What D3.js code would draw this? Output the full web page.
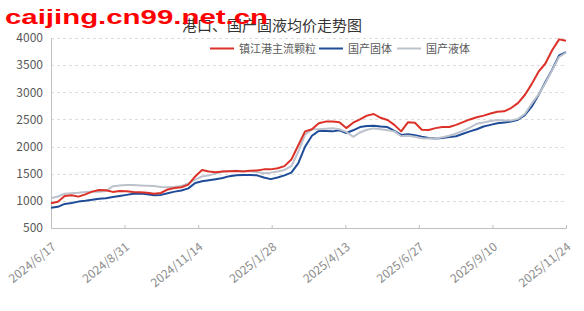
<!DOCTYPE html>
<html>
<head>
<meta charset="utf-8">
<script src="https://cdn.jsdelivr.net/npm/d3@7"></script>
<style>
  body { margin: 0; background: #fff; }
  text { font-family: "Noto Sans CJK SC", "Noto Sans", sans-serif; }
</style>
</head>
<body>
<div id="app"></div>
<script>
// weekly dates, 2024/6/17 .. 2025/11/24
const dates = [
  "2024-06-17","2024-06-24","2024-07-01","2024-07-08","2024-07-15","2024-07-22","2024-07-29",
  "2024-08-05","2024-08-12","2024-08-19","2024-08-26","2024-09-02","2024-09-09","2024-09-16",
  "2024-09-23","2024-09-30","2024-10-07","2024-10-14","2024-10-21","2024-10-28","2024-11-04",
  "2024-11-11","2024-11-18","2024-11-25","2024-12-02","2024-12-09","2024-12-16","2024-12-23",
  "2024-12-30","2025-01-06","2025-01-13","2025-01-20","2025-01-27","2025-02-03","2025-02-10",
  "2025-02-17","2025-02-24","2025-03-03","2025-03-10","2025-03-17","2025-03-24","2025-03-31",
  "2025-04-07","2025-04-14","2025-04-21","2025-04-28","2025-05-05","2025-05-12","2025-05-19",
  "2025-05-26","2025-06-02","2025-06-09","2025-06-16","2025-06-23","2025-06-30","2025-07-07",
  "2025-07-14","2025-07-21","2025-07-28","2025-08-04","2025-08-11","2025-08-18","2025-08-25",
  "2025-09-01","2025-09-08","2025-09-15","2025-09-22","2025-09-29","2025-10-06","2025-10-13",
  "2025-10-20","2025-10-27","2025-11-03","2025-11-10","2025-11-17","2025-11-24"
];

// 镇江港主流颗粒
const portValues = [
  955, 985, 1090, 1105, 1078, 1120, 1170, 1200, 1195, 1165, 1180, 1175, 1165, 1160,
  1150, 1130, 1145, 1210, 1235, 1250, 1300, 1450, 1570, 1540, 1525, 1540, 1545, 1550,
  1540, 1555, 1560, 1580, 1580, 1600, 1640, 1760, 2020, 2280, 2320, 2430, 2460, 2460,
  2450, 2340, 2440, 2500, 2570, 2600, 2530, 2490, 2400, 2280, 2450, 2440, 2310, 2305,
  2340, 2360, 2360, 2400, 2450, 2500, 2540, 2570, 2610, 2640, 2650, 2710, 2800, 2950,
  3150, 3380, 3530, 3780, 3975, 3950
];
// 国产固体
const solidValues = [
  875, 890, 943, 960, 986, 1000, 1020, 1040, 1050, 1070, 1090, 1110, 1130, 1135,
  1120, 1105, 1110, 1140, 1170, 1190, 1230, 1330, 1360, 1380, 1400, 1420, 1455, 1470,
  1475, 1475, 1470, 1430, 1400, 1430, 1470, 1520, 1690, 1998, 2200, 2290, 2285, 2280,
  2300, 2250, 2300, 2360, 2380, 2385, 2370, 2360, 2290, 2215, 2225, 2210, 2183, 2160,
  2150, 2160, 2175, 2190, 2235, 2280, 2320, 2370, 2400, 2428, 2445, 2460, 2495, 2580,
  2735, 2950, 3190, 3420, 3680, 3740
];
// 国产液体
const liquidValues = [
  1047, 1080, 1130, 1140, 1150, 1165, 1170, 1170, 1180, 1270, 1285, 1290, 1290, 1285,
  1280, 1275, 1255, 1250, 1260, 1275, 1320, 1390, 1450, 1470, 1505, 1540, 1550, 1555,
  1550, 1545, 1530, 1510, 1520, 1540, 1570, 1640, 1900, 2220, 2317, 2320, 2330, 2336,
  2320, 2270, 2180, 2260, 2310, 2335, 2320, 2300, 2280, 2190, 2200, 2180, 2155, 2150,
  2150, 2170, 2200, 2240, 2290, 2350, 2420, 2445, 2470, 2490, 2480, 2480, 2510, 2600,
  2790, 2960, 3170, 3410, 3650, 3730
];

const seriesNames = ["镇江港主流颗粒", "国产固体", "国产液体"];
const seriesColors = ["#dc3128", "#1f4c98", "#bcc2cb"];
const xTickLabels = ["2024/6/17","2024/8/31","2024/11/14","2025/1/28","2025/4/13","2025/6/27","2025/9/10","2025/11/24"];
const yTicks = [500, 1000, 1500, 2000, 2500, 3000, 3500, 4000];

const width = 584, height = 311;
const margin = { top: 38, right: 18, bottom: 83, left: 51 };
const parseDate = d3.timeParse("%Y-%m-%d");
const parseTick = d3.timeParse("%Y/%m/%d");

const svg = d3.select("#app").append("svg")
  .attr("width", width).attr("height", height);

const x = d3.scaleTime()
  .domain([parseDate(dates[0]), parseDate(dates[dates.length - 1])])
  .range([margin.left, width - margin.right]);
const y = d3.scaleLinear()
  .domain([500, 4000])
  .range([height - margin.bottom, margin.top]);

// grid
svg.append("g")
  .selectAll("line")
  .data(yTicks.slice(1))
  .join("line")
  .attr("x1", margin.left).attr("x2", width - margin.right)
  .attr("y1", d => Math.round(y(d)) + 0.5).attr("y2", d => Math.round(y(d)) + 0.5)
  .attr("stroke", "#dcdcdc")
  .attr("stroke-dasharray", "3,3");

// y axis
const yAxis = svg.append("g")
  .attr("transform", `translate(${margin.left},0)`)
  .call(d3.axisLeft(y).tickValues(yTicks).tickFormat(d3.format("d")).tickSize(0).tickPadding(8));
yAxis.select(".domain").attr("stroke", "#bfbfbf");
yAxis.selectAll("text").attr("fill", "#595959").style("font-size", "12px");

// x axis
const xAxis = svg.append("g")
  .attr("transform", `translate(0,${height - margin.bottom})`)
  .call(d3.axisBottom(x).tickValues(xTickLabels.map(parseTick)).tickSize(-3).tickFormat(""));
xAxis.select(".domain").attr("stroke", "#bfbfbf");
xAxis.selectAll(".tick line").attr("stroke", "#bfbfbf");

svg.append("g")
  .selectAll("text")
  .data(xTickLabels)
  .join("text")
  .attr("transform", d => `translate(${x(parseTick(d)) + 3},${height - margin.bottom + 17}) rotate(-39)`)
  .attr("text-anchor", "end")
  .attr("dy", "0.35em")
  .attr("fill", "#8c8c8c")
  .style("font-size", "12px")
  .text(d => d);

// lines
const table = dates.map((d, i) => ({
  date: parseDate(d),
  values: [portValues[i], solidValues[i], liquidValues[i]]
}));

const drawOrder = [1, 2, 0];
drawOrder.forEach(s => {
  svg.append("path")
    .datum(table)
    .attr("fill", "none")
    .attr("stroke", seriesColors[s])
    .attr("stroke-width", 2)
    .attr("stroke-linejoin", "round")
    .attr("d", d3.line().x(d => x(d.date)).y(d => y(d.values[s]))(table));
});

// title
svg.append("text")
  .attr("x", 182).attr("y", 31)
  .attr("fill", "#333")
  .style("font-size", "15px")
  .text("港口、国产固液均价走势图");

// legend
const legendX = [210, 319, 397];
const legend = svg.append("g");
seriesNames.forEach((name, i) => {
  legend.append("line")
    .attr("x1", legendX[i]).attr("x2", legendX[i] + 24)
    .attr("y1", 48.5).attr("y2", 48.5)
    .attr("stroke", seriesColors[i])
    .attr("stroke-width", 2);
  legend.append("text")
    .attr("x", legendX[i] + 29).attr("y", 49)
    .attr("dy", "0.35em")
    .attr("fill", "#595959")
    .style("font-size", "11px")
    .text(name);
});

// watermark
svg.append("text")
  .attr("x", 5).attr("y", 24)
  .attr("fill", "#ff0000")
  .attr("textLength", 263)
  .attr("lengthAdjust", "spacingAndGlyphs")
  .style("font-family", "'Liberation Sans', Arial, sans-serif")
  .style("font-weight", "bold")
  .style("font-size", "20px")
  .text("caijing.cn99.net.cn");
</script>
</body>
</html>
